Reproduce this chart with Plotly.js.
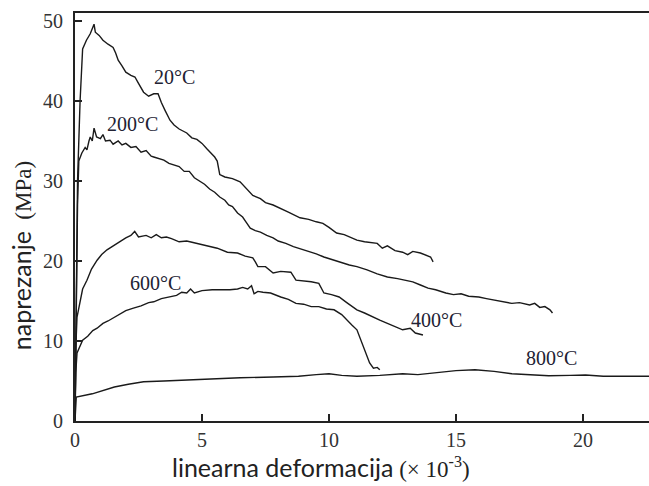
<!DOCTYPE html>
<html>
<head>
<meta charset="utf-8">
<script src="https://cdn.plot.ly/plotly-3.0.1.min.js"></script>
<style>html,body{margin:0;padding:0;background:#fff;}#chart{width:649px;height:486px;}</style>
</head>
<body>
<div id="chart"></div>
<script>
// Series values: [strain (x10^-3), stress (MPa)]
const curve20C = [[0,0],[0.05,12],[0.1,30],[0.2,40],[0.3,46.5],[0.45,47.6],[0.6,48.4],[0.75,49.6],[0.8,48.6],[0.95,48.2],[1.1,47.6],[1.3,47.1],[1.5,46.7],[1.6,46.0],[1.7,45.1],[1.85,44.4],[2.0,43.6],[2.2,43.2],[2.36,43.0],[2.5,42.2],[2.7,41.1],[2.9,40.6],[3.1,40.9],[3.27,40.9],[3.4,39.8],[3.55,38.8],[3.74,37.6],[3.9,37.0],[4.1,36.5],[4.4,36.0],[4.6,35.4],[4.8,35.2],[5.0,34.7],[5.2,34.0],[5.5,33.0],[5.6,32.5],[5.7,30.8],[5.9,30.5],[6.2,30.3],[6.5,29.9],[6.7,29.2],[7.0,28.2],[7.3,27.8],[7.5,27.3],[7.8,27.0],[8.1,26.5],[8.4,26.1],[8.86,25.4],[9.2,25.2],[9.5,24.9],[9.76,24.7],[10.0,24.2],[10.3,23.5],[10.6,23.3],[10.9,22.9],[11.1,22.6],[11.4,22.4],[11.7,22.3],[11.9,22.2],[12.1,21.6],[12.3,21.9],[12.6,21.3],[12.9,21.1],[13.1,20.8],[13.3,21.2],[13.6,21.0],[13.8,20.7],[14.0,20.5],[14.1,19.9]];
const curve200C = [[0,0],[0.05,14],[0.1,27],[0.15,32.5],[0.27,33.5],[0.4,34.2],[0.47,33.9],[0.55,35.0],[0.6,35.5],[0.68,35.0],[0.75,36.6],[0.85,35.5],[1.0,35.3],[1.1,35.8],[1.2,35.0],[1.38,35.1],[1.5,34.6],[1.7,35.0],[1.85,34.5],[2.0,34.7],[2.2,34.2],[2.4,34.3],[2.6,33.6],[2.8,33.8],[3.0,33.1],[3.1,33.0],[3.3,32.8],[3.5,32.6],[3.7,32.2],[3.9,32.0],[4.1,31.8],[4.3,31.2],[4.5,31.2],[4.7,30.4],[4.9,30.0],[5.1,29.6],[5.3,29.0],[5.5,28.6],[5.7,28.0],[5.9,27.6],[6.05,27.0],[6.2,26.8],[6.4,26.0],[6.6,25.5],[6.75,24.8],[6.9,24.1],[7.1,23.8],[7.3,23.6],[7.55,23.2],[7.8,22.9],[8.0,22.5],[8.3,22.2],[8.6,21.8],[8.9,21.5],[9.25,21.1],[9.5,20.9],[9.8,20.5],[10.2,20.1],[10.5,19.8],[10.8,19.5],[11.1,19.3],[11.5,18.9],[11.9,18.4],[12.3,18.0],[12.7,17.8],[13.0,17.6],[13.3,17.4],[13.6,17.0],[13.9,16.6],[14.2,16.4],[14.6,16.0],[14.9,15.8],[15.2,15.9],[15.5,15.6],[15.9,15.5],[16.2,15.3],[16.5,15.1],[16.9,14.9],[17.2,14.7],[17.5,14.8],[17.9,14.5],[18.1,14.7],[18.3,14.2],[18.5,14.3],[18.7,13.9],[18.8,13.5]];
const curve400C = [[0,0],[0.03,9],[0.08,13],[0.2,15.1],[0.3,16.5],[0.47,17.6],[0.65,19.0],[0.87,20.1],[1.05,20.8],[1.26,21.4],[1.5,21.9],[1.77,22.4],[2.0,22.9],[2.2,23.2],[2.35,23.7],[2.5,23.0],[2.8,23.2],[3.0,22.9],[3.2,23.3],[3.4,22.9],[3.6,23.0],[3.8,22.8],[4.1,22.4],[4.4,22.5],[4.8,22.2],[5.2,21.9],[5.6,21.6],[6.0,21.1],[6.4,21.0],[6.7,20.6],[7.0,20.4],[7.1,19.9],[7.2,19.3],[7.5,19.3],[7.8,18.5],[8.1,18.7],[8.5,18.6],[8.7,17.6],[9.0,17.5],[9.3,17.4],[9.6,17.2],[9.8,16.0],[10.1,15.8],[10.4,15.5],[10.7,14.8],[11.1,13.9],[11.4,13.5],[11.7,13.0],[12.0,12.6],[12.3,12.2],[12.6,11.8],[12.9,11.4],[13.2,11.6],[13.4,11.0],[13.7,10.75]];
const curve600C = [[0,0],[0.03,6],[0.08,8.5],[0.2,9.4],[0.3,10.1],[0.5,10.6],[0.7,11.3],[0.87,11.6],[1.1,12.2],[1.3,12.5],[1.5,12.9],[1.8,13.4],[2.0,13.8],[2.3,14.1],[2.6,14.4],[2.9,14.8],[3.1,14.9],[3.4,15.3],[3.7,15.5],[4.0,15.7],[4.2,16.1],[4.4,16.0],[4.55,16.5],[4.7,16.0],[5.0,16.3],[5.4,16.4],[5.8,16.4],[6.1,16.4],[6.4,16.5],[6.6,16.7],[6.8,16.5],[6.95,16.9],[7.05,15.9],[7.2,16.2],[7.4,16.1],[7.7,16.0],[8.1,15.5],[8.4,15.2],[8.7,14.7],[9.0,14.6],[9.3,14.3],[9.6,14.3],[9.9,14.0],[10.2,13.9],[10.5,13.3],[10.7,12.6],[10.9,12.0],[11.1,11.4],[11.25,10.2],[11.35,9.25],[11.5,8.0],[11.6,7.25],[11.75,6.6],[11.9,6.7],[12.0,6.4]];
const curve800C = [[0,0],[0.02,2.5],[0.05,3.0],[0.68,3.4],[1.0,3.7],[1.55,4.25],[2.1,4.6],[2.7,4.9],[3.5,5.0],[4.2,5.1],[5.0,5.2],[5.6,5.3],[6.5,5.4],[7.8,5.5],[8.8,5.6],[9.5,5.8],[10.0,5.9],[10.5,5.7],[11.1,5.6],[12.0,5.7],[12.9,5.9],[13.5,5.8],[14.3,6.1],[15.0,6.3],[15.75,6.4],[16.5,6.2],[17.2,5.9],[17.8,5.8],[18.65,5.65],[19.5,5.7],[20.1,5.75],[20.8,5.6],[21.5,5.6],[22.6,5.6]];

const seriesNames = ['20°C','200°C','400°C','600°C','800°C'];
const seriesData = [curve20C, curve200C, curve400C, curve600C, curve800C];
// label anchor positions (data coords)
const labelX = [3.9, 2.25, 14.25, 3.15, 18.75];
const labelY = [43.0, 37.1, 12.6, 17.25, 7.9];

const xTickVals = [0,5,10,15,20];
const yTickVals = [0,10,20,30,40,50];

const traces = seriesData.map((d,i)=>({
  type:'scatter', mode:'lines', name:seriesNames[i],
  x:d.map(p=>p[0]), y:d.map(p=>p[1]),
  line:{color:'#1a1a1a', width:1.4},
  hoverinfo:'skip'
}));

const serif = 'Liberation Serif, Times New Roman, serif';
const sansSpan = 'font-family:Lato, Open Sans, sans-serif;font-size:25px';
const serifSpan = 'font-family:Liberation Serif, Times New Roman, serif;font-size:23px';

const annotations = seriesNames.map((n,i)=>({
  x:labelX[i], y:labelY[i], xref:'x', yref:'y', text:n, showarrow:false,
  font:{family:serif, size:20, color:'#222233'}
}));
annotations.push({
  xref:'paper', yref:'paper', x:-0.094, y:0.404, xanchor:'center', yanchor:'middle', textangle:-90, showarrow:false,
  text:'<span style="'+sansSpan+'">naprezanje</span><span style="'+serifSpan+'">&nbsp;&nbsp;(MPa)</span>',
  font:{family:serif, size:23, color:'#222'}
});
annotations.push({
  xref:'paper', yref:'paper', x:0.1655, y:-0.113, xanchor:'left', yanchor:'middle', showarrow:false,
  text:'<span style="'+sansSpan+'">linearna deformacija</span><span style="'+serifSpan+'"> (× 10<sup>-3</sup>)</span>',
  font:{family:serif, size:23, color:'#222'}
});

const layout = {
  width:649, height:486,
  margin:{l:75, r:0, t:13, b:65},
  paper_bgcolor:'#fff', plot_bgcolor:'#fff',
  showlegend:false,
  xaxis:{range:[0,22.6], tickvals:xTickVals, ticks:'inside', ticklen:7, tickwidth:1.5, tickcolor:'#222',
    showline:true, linecolor:'#222', linewidth:2, mirror:true, showgrid:false, zeroline:false,
    tickfont:{family:serif, size:20, color:'#333'}},
  yaxis:{range:[0,51], tickvals:yTickVals, ticks:'inside', ticklen:7, tickwidth:1.5, tickcolor:'#222',
    showline:true, linecolor:'#222', linewidth:2, mirror:false, showgrid:false, zeroline:false,
    ticklabelstandoff:6,
    tickfont:{family:serif, size:20, color:'#333'}},
  annotations:annotations
};

Plotly.newPlot('chart', traces, layout, {staticPlot:true, displayModeBar:false});
</script>
</body>
</html>
